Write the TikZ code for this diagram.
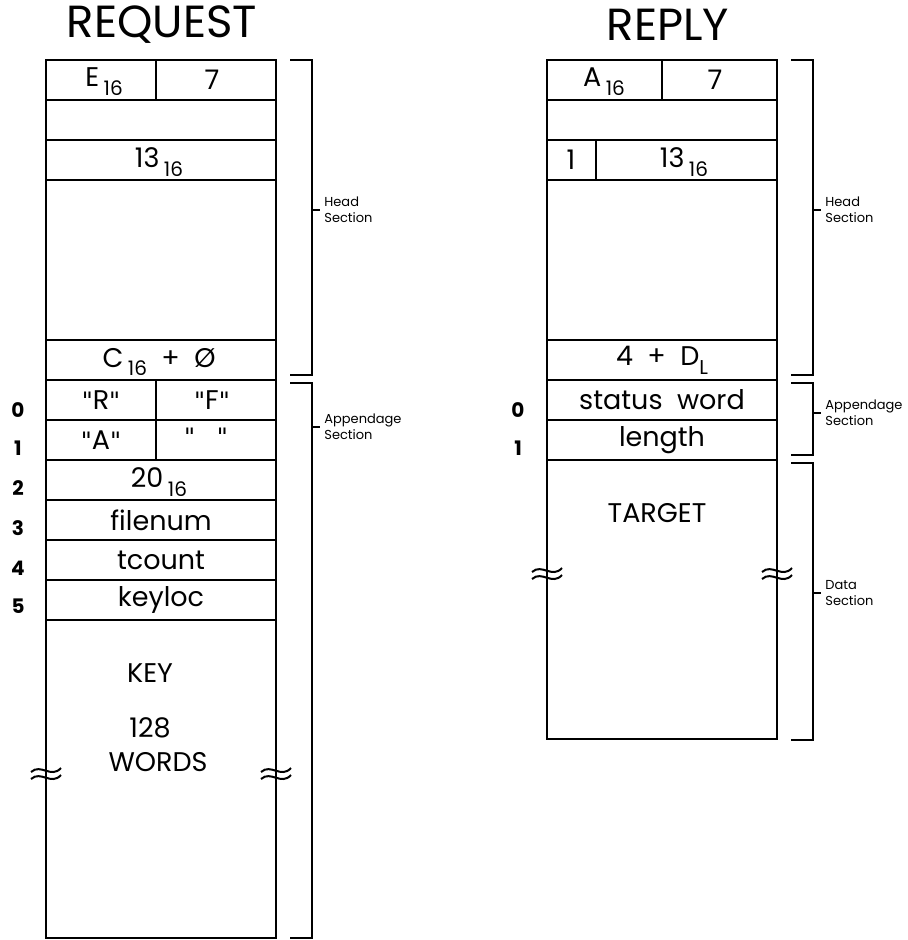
\documentclass[tikz,border=0pt]{standalone}
\usepackage{fontspec}
\setmainfont{Poppins}
\newfontfamily\quotefont{DejaVu Sans}
\newcommand\subs[1]{\raisebox{-0.6ex}{\fontsize{10}{10}\selectfont #1}}
\newcommand\dq{{\quotefont\fontsize{12}{12}\selectfont\symbol{"22}}}
\tikzset{
  frame/.style={line width=1.3pt},
  field/.style={inner sep=0pt, font=\fontsize{13.5}{13.5}\selectfont},
  rownum/.style={inner sep=0pt, font=\fontsize{10}{10}\selectfont\bfseries},
  sectlabel/.style={inner sep=0pt, anchor=west, align=left, font=\fontsize{6.5}{8}\selectfont},
  title/.style={inner sep=0pt, font=\fontsize{22.5}{22.5}\selectfont},
  squig/.pic={
    \draw[line width=1pt] (-15,-1) .. controls (-5,-10) and (5,6) .. (15,-5);
    \draw[line width=1pt] (-15,6) .. controls (-5,-3) and (5,13) .. (15,2);
  }
}
\begin{document}
\begin{tikzpicture}[x=0.5pt,y=-0.5pt]
\useasboundingbox (0,0) rectangle (907,940);

% request block
\draw[frame] (46,60) rectangle (276,938);
\draw[frame] (46,100) -- (276,100) (46,140) -- (276,140) (46,180) -- (276,180)
  (46,340) -- (276,340) (46,380) -- (276,380) (46,420) -- (276,420)
  (46,460) -- (276,460) (46,500) -- (276,500) (46,540) -- (276,540)
  (46,580) -- (276,580) (46,620) -- (276,620);
\draw[frame] (156,60) -- (156,100) (156,380) -- (156,460);

\node[title] (reqTitle) at (162,25) {REQUEST};
\node[field] (reqCode) at (104,82) {E\,\subs{16}};
\node[field] (reqLen) at (212,80) {7};
\node[field] (reqFunc) at (159,162) {13\,\subs{16}};
\node[field] (reqAppLen) at (159,362) {C\,\subs{16}~~+~~Ø};
\node[field] (reqR) at (101,400) {\dq R\dq};
\node[field] (reqF) at (212,400) {\dq F\dq};
\node[field] (reqA) at (101,440) {\dq A\dq};
\node[field] (reqBlank) at (206,437) {\dq~~~\dq};
\node[field] (reqSize) at (159,482) {20\,\subs{16}};
\node[field] (reqFile) at (161,520) {filenum};
\node[field] (reqCount) at (161,560) {tcount};
\node[field] (reqKeyloc) at (161,600) {keyloc};
\node[field] (reqKey) at (150,673) {KEY};
\node[field] (reqNum) at (150,728) {128};
\node[field] (reqWords) at (158,762) {WORDS};

% word numbers
\foreach \n/\y in {0/410,1/448,2/488,3/528,4/568,5/606}
  \node[rownum] (reqRow\n) at (18,\y) {\n};

\pic at (46,773) {squig};
\pic at (276,773) {squig};

% request brackets
\draw[frame] (290,60) -- (312,60) -- (312,375) -- (290,375) (312,210) -- (320,210);
\node[sectlabel] (reqHead) at (324,210) {Head\\Section};
\draw[frame] (290,383) -- (312,383) -- (312,938) -- (290,938) (312,427) -- (320,427);
\node[sectlabel] (reqApp) at (324,427) {Appendage\\Section};

% reply block
\draw[frame] (547,60) rectangle (777,739);
\draw[frame] (547,100) -- (777,100) (547,140) -- (777,140) (547,180) -- (777,180)
  (547,340) -- (777,340) (547,380) -- (777,380) (547,420) -- (777,420)
  (547,460) -- (777,460);
\draw[frame] (662,60) -- (662,100) (596,140) -- (596,180);

\node[title] (repTitle) at (668,25) {REPLY};
\node[field] (repCode) at (604,82) {A\,\subs{16}};
\node[field] (repLen) at (715,80) {7};
\node[field] (repFlag) at (571,160) {1};
\node[field] (repFunc) at (684,162) {13\,\subs{16}};
\node[field] (repAppLen) at (662,360) {4~~+~~D\subs{L}};
\node[field] (repStatus) at (662,400) {status~~word};
\node[field] (repLength) at (662,440) {length};
\node[field] (repTarget) at (657,513) {TARGET};

\node[rownum] (repRow0) at (518,410) {0};
\node[rownum] (repRow1) at (518,448) {1};

\pic at (547,573) {squig};
\pic at (777,573) {squig};

% reply brackets
\draw[frame] (791,60) -- (813,60) -- (813,375) -- (791,375) (813,210) -- (821,210);
\node[sectlabel] (repHead) at (825,210) {Head\\Section};
\draw[frame] (791,383) -- (813,383) -- (813,455) -- (791,455) (813,413) -- (821,413);
\node[sectlabel] (repApp) at (825,413) {Appendage\\Section};
\draw[frame] (791,463) -- (813,463) -- (813,740) -- (791,740) (813,593) -- (821,593);
\node[sectlabel] (repData) at (825,593) {Data\\Section};
\end{tikzpicture}
\end{document}
